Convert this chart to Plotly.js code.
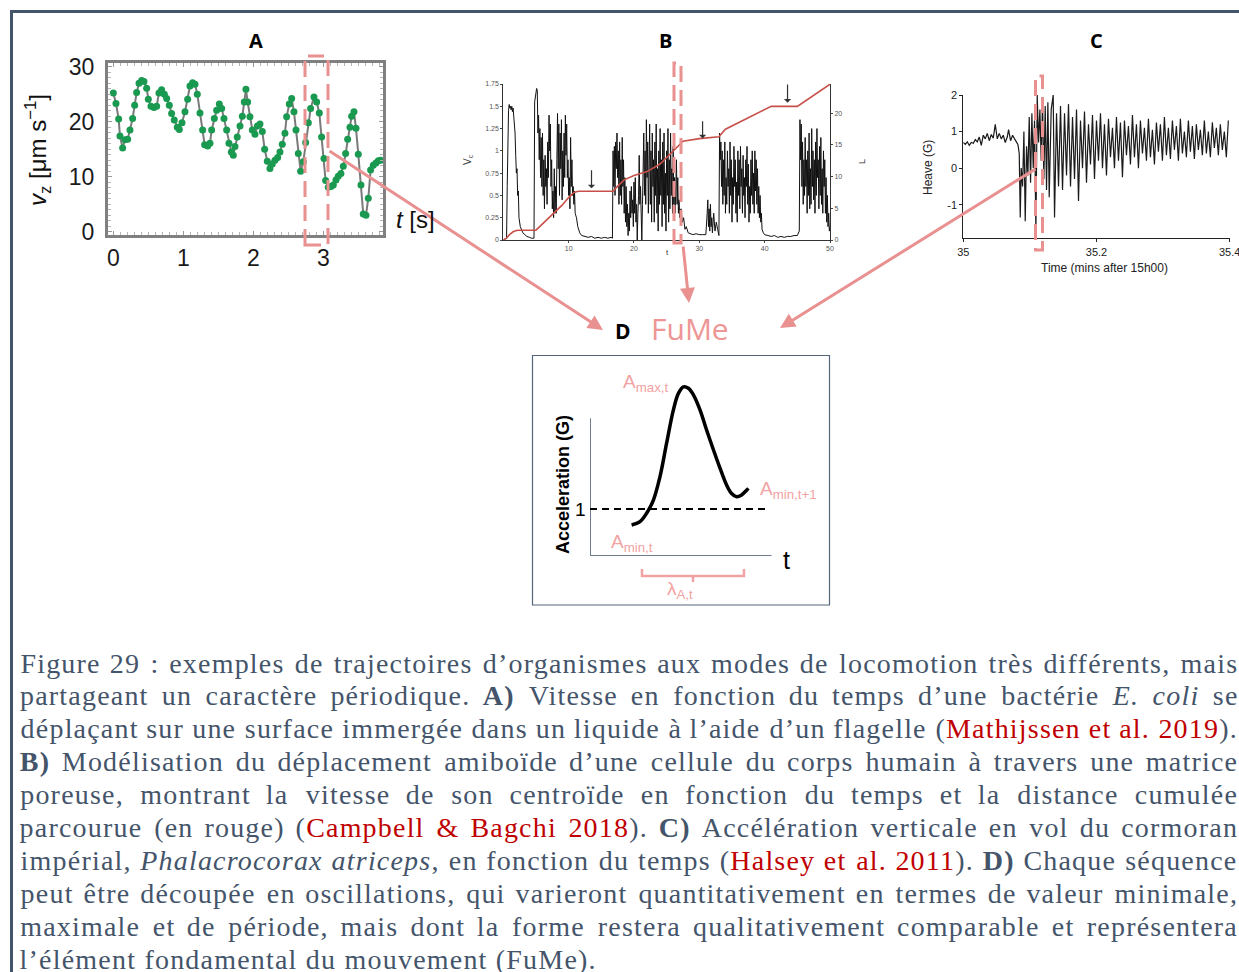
<!DOCTYPE html>
<html>
<head>
<meta charset="utf-8">
<script src="https://cdn.plot.ly/plotly-3.0.1.min.js"></script>
<style>
html, body { margin: 0; padding: 0; background: #ffffff; }
#fig { width: 1239px; height: 972px; }
</style>
</head>
<body>
<div id="fig"></div>
<script>
// ---------- Panel A: vertical swimming speed of E. coli ----------
const timeA = [0.000,0.038,0.076,0.095,0.133,0.167,0.205,0.238,0.276,0.305,0.333,0.367,0.405,0.438,0.476,0.500,0.538,0.581,0.619,0.652,
  0.690,0.729,0.762,0.800,0.833,0.871,0.914,0.943,0.981,1.024,1.062,1.095,1.133,1.167,1.200,1.238,1.276,1.305,1.348,1.381,
  1.405,1.443,1.476,1.514,1.548,1.581,1.619,1.652,1.686,1.714,1.738,1.771,1.810,1.843,1.871,1.895,1.919,1.952,1.986,2.024,
  2.057,2.095,2.129,2.162,2.200,2.238,2.271,2.310,2.348,2.381,2.414,2.452,2.476,2.514,2.548,2.581,2.610,2.643,2.676,2.714,
  2.748,2.786,2.819,2.867,2.905,2.943,2.976,3.010,3.033,3.071,3.110,3.143,3.181,3.214,3.252,3.286,3.319,3.348,3.381,3.405,
  3.438,3.467,3.500,3.538,3.571,3.610,3.643,3.676,3.714,3.752,3.786,3.819];
const speedA = [25.2,23.3,20.5,17.4,15.2,16.7,16.8,18.5,20.6,23.0,25.3,27.0,27.5,27.3,26.1,24.1,22.8,22.6,22.8,25.2,
  25.8,25.0,24.2,23.0,21.5,20.3,19.0,18.6,19.8,21.8,24.1,26.5,27.1,26.8,25.0,21.6,18.5,15.8,15.6,16.1,
  18.5,20.6,22.1,23.2,22.4,20.6,18.5,16.1,14.5,13.9,15.5,17.2,19.2,21.0,23.6,25.9,23.6,20.9,18.5,17.7,
  19.2,19.6,18.2,15.0,12.8,11.5,12.3,13.0,13.5,14.5,15.9,17.9,20.9,23.2,24.2,21.8,18.5,14.2,11.0,12.7,
  16.2,19.8,22.4,24.5,23.6,21.6,17.2,13.3,9.3,8.1,8.2,8.5,9.4,10.1,10.6,11.9,14.2,16.8,19.0,21.0,
  21.8,18.8,14.1,8.5,3.2,3.0,6.1,11.2,12.1,12.5,12.9,13.0];
const ticksAx = [0, 1, 2, 3];
const ticksAy = [0, 10, 20, 30];

// ---------- Panel B: centroid speed (black) and cumulative distance (red) ----------
const timeB = [
  0,0.5,0.6,0.7,0.8,0.9,1.0,1.1,1.2,1.3,1.4,1.5,1.6,1.7,1.8,1.9,2.0,2.1,2.2,2.3,2.4,2.6,2.8,3.0,3.3,3.6,4.0,4.3,4.6,
  4.7,4.8,4.9,5.0,5.1,5.2,5.3,5.4,5.5,5.6,5.7,5.8,5.9,6.0,6.1,6.2,6.3,6.4,6.5,6.6,6.7,6.8,6.9,7.0,7.1,7.2,7.3,7.4,7.5,7.6,7.7,
  7.8,7.9,8.0,8.1,8.2,8.3,8.4,8.5,8.6,8.7,8.8,8.9,9.0,9.1,9.2,9.3,9.4,9.5,9.6,9.7,9.8,9.9,10.0,10.1,10.2,10.3,10.4,10.5,10.6,10.7,
  10.8,10.9,11.0,
  11.2,11.4,11.7,12.0,12.5,13,13.5,14,14.5,15,15.5,16,16.5,16.7,
  16.8,16.9,17.0,17.1,17.2,17.3,17.4,17.5,17.6,17.7,17.8,17.9,18.0,18.1,18.2,18.3,18.4,18.5,18.6,18.7,
  18.8,18.9,19.0,19.1,19.2,19.3,19.4,19.5,19.6,19.7,19.8,19.9,20.0,20.1,20.2,20.3,20.4,20.5,20.6,20.7,
  20.8,20.9,21.0,21.1,21.2,21.3,21.4,21.5,21.6,21.7,21.8,21.9,22.0,22.1,22.2,22.3,22.4,22.5,22.6,22.7,
  22.8,22.9,23.0,23.1,23.2,23.3,23.4,23.5,23.6,23.7,23.8,23.9,24.0,24.1,24.2,24.3,24.4,24.5,24.6,24.7,
  24.8,24.9,25.0,25.1,25.2,25.3,25.4,25.5,25.6,25.7,25.8,25.9,26.0,26.1,26.2,26.3,26.4,26.5,26.6,26.7,
  26.8,26.9,27.0,
  27.2,27.4,27.6,27.8,28.0,28.3,28.6,29,29.5,30,30.5,31,31.2,31.3,31.4,31.5,31.6,31.7,31.8,31.9,32.0,32.2,32.4,32.6,32.8,33.0,
  33.1,33.2,33.3,33.4,33.5,33.6,33.7,33.8,33.9,34.0,34.1,34.2,34.3,34.4,34.5,34.6,34.7,34.8,34.9,35.0,
  35.1,35.2,35.3,35.4,35.5,35.6,35.7,35.8,35.9,36.0,36.1,36.2,36.3,36.4,36.5,36.6,36.7,36.8,36.9,37.0,
  37.1,37.2,37.3,37.4,37.5,37.6,37.7,37.8,37.9,38.0,38.1,38.2,38.3,38.4,38.5,38.6,38.7,38.8,38.9,39.0,
  39.1,39.2,39.3,39.4,39.5,39.6,39.8,
  40,40.5,41,41.5,42,42.5,43,43.5,44,44.5,45,45.3,
  45.4,45.5,45.6,45.7,45.8,45.9,46.0,46.1,46.2,46.3,46.4,46.5,46.6,46.7,46.8,46.9,47.0,47.1,47.2,47.3,
  47.4,47.5,47.6,47.7,47.8,47.9,48.0,48.1,48.2,48.3,48.4,48.5,48.6,48.7,48.8,48.9,49.0,49.1,49.2,49.3,
  49.4,49.5,49.6,49.7,49.8,49.9,50.0];
const speedB = [
  0,0.02,0.6,1.3,1.45,1.52,1.48,1.5,1.46,1.5,1.44,1.48,1.4,1.35,1.2,0.95,0.75,0.8,0.5,0.55,0.25,0.15,0.1,0.08,0.06,0.04,0.03,0.02,0.02,
  0.02,1.55,1.62,1.65,1.7,1.68,1.2,1.4,0.9,1.25,0.7,1.15,0.6,1.2,0.5,0.9,0.35,0.95,0.6,0.8,0.4,1.1,0.7,1.4,1.0,1.3,0.6,0.9,0.35,0.55,0.25,
  0.8,0.3,0.6,0.3,0.9,1.42,0.8,1.3,0.5,1.2,0.8,1.35,0.45,1.0,0.6,1.2,0.7,1.4,0.95,1.3,0.7,0.9,0.5,0.7,0.35,1.15,0.6,0.9,0.5,0.6,
  0.4,0.55,0.3,
  0.25,0.15,0.08,0.05,0.04,0.03,0.04,0.02,0.03,0.02,0.03,0.02,0.03,0.02,
  1.0,0.6,1.05,0.5,1.1,0.8,1.2,0.7,1.0,0.4,1.1,0.5,0.9,0.4,1.15,0.6,0.9,0.3,0.7,0.2,
  0.6,0.15,0.4,0.05,0.3,0.1,0.55,0.25,0.6,0.3,0.45,0.15,0.65,0.3,0.7,0.2,0.4,0.0,0.3,0.5,
  0.95,0.4,0.6,0.1,0.0,0.4,0.8,1.2,0.5,1.0,0.4,1.35,0.7,1.1,0.3,0.8,1.3,0.4,1.0,0.2,
  1.2,0.6,0.9,0.2,1.1,0.5,1.3,0.3,0.8,0.1,1.0,0.4,1.25,0.5,0.9,0.15,1.1,0.4,1.2,0.3,
  0.75,0.1,1.0,0.5,1.25,0.2,0.9,0.35,1.2,0.5,0.8,0.3,1.05,0.4,0.7,0.3,0.6,0.9,0.4,0.7,
  0.3,0.45,0.25,
  0.35,0.2,0.25,0.12,0.15,0.08,0.07,0.06,0.07,0.06,0.06,0.06,0.3,0.45,0.15,0.35,0.1,0.4,0.15,0.25,0.08,0.3,0.1,0.2,0.12,0.05,
  1.2,0.9,1.1,0.6,1.0,0.4,0.9,0.5,1.1,0.3,0.7,0.4,1.0,0.6,0.8,0.3,1.1,0.5,0.9,0.2,
  0.7,0.4,1.05,0.6,0.9,0.3,0.65,0.2,1.0,0.5,0.9,0.35,1.05,0.6,0.8,0.3,0.95,0.5,0.7,0.25,
  0.9,0.6,1.05,0.4,0.85,0.2,0.6,0.3,0.9,0.5,1.0,0.4,0.75,0.3,1.0,0.55,0.9,0.4,0.8,0.3,
  0.6,0.25,0.5,0.2,0.3,0.12,0.08,
  0.06,0.05,0.04,0.05,0.03,0.04,0.03,0.04,0.04,0.05,0.05,0.1,
  1.35,0.9,1.3,0.6,1.1,0.4,0.9,0.5,1.15,0.6,0.9,0.3,1.0,0.5,1.2,0.35,0.8,0.4,1.25,0.6,
  1.0,0.45,0.9,0.3,1.1,0.5,1.25,0.7,0.9,0.35,1.05,0.5,1.15,0.4,0.8,0.3,1.0,0.6,0.9,0.3,
  0.7,0.2,0.5,0.15,0.3,0.1,0.15];
const timeBL = [0,0.5,1,1.5,2,2.5,5,6,7,8,9,10,10.8,11.5,16.8,17.5,18.5,20,22,24,25.5,26.5,27.5,30,33,34,36,38,40,41,45,46,47,48,49,50];
const distB = [0,0.3,0.9,1.3,1.5,1.55,1.55,2.5,3.5,4.5,5.5,6.7,7.5,7.7,7.7,8.5,9.5,10.2,10.8,12.0,13.5,14.5,15.6,16.0,16.3,17.5,18.5,19.5,20.6,21.1,21.1,21.8,22.5,23.2,24.0,24.6];
const pauseT = [13.5, 30.5, 43.5];
const pauseTop = [0.8, 1.35, 1.76];
const pauseTip = [0.58, 1.14, 1.54];
const ticksBx = [10, 20, 30, 40, 50];
const ticksBy = [0, 0.25, 0.5, 0.75, 1, 1.25, 1.5, 1.75];
const ticksBL = [0, 5, 10, 15, 20];

// ---------- Panel C: heave acceleration of an imperial cormorant ----------
const timeC = [35.000,35.003,35.006,35.009,35.012,35.015,35.018,35.021,35.024,35.027,35.030,35.033,35.036,35.039,35.042,35.045,35.048,35.051,35.054,35.057,
  35.060,35.063,35.066,35.068,35.071,35.074,35.077,35.080,35.082,35.084,35.0855,35.087,35.089,35.091,35.093,35.095,35.097,35.099,35.101,35.103,
  35.105,35.107,35.109,35.111,35.113,35.115,35.117,35.119,35.121,35.123,35.125,35.127,35.129,35.132,35.135,35.137,35.140,35.143,35.146,35.149,
  35.152,35.155,35.158,35.161,35.164,35.167,35.170,35.173,35.176,35.179,35.182,35.185,35.188,35.191,35.194,35.197,35.200,35.203,35.206,35.209,
  35.212,35.215,35.218,35.221,35.224,35.227,35.230,35.233,35.236,35.239,35.242,35.245,35.248,35.251,35.254,35.257,35.260,35.263,35.266,35.269,
  35.272,35.275,35.278,35.281,35.284,35.287,35.290,35.293,35.296,35.299,35.302,35.305,35.308,35.311,35.314,35.317,35.320,35.323,35.326,35.329,
  35.332,35.335,35.338,35.341,35.344,35.347,35.350,35.353,35.356,35.359,35.362,35.365,35.368,35.371,35.374,35.377,35.380,35.383,35.386,35.389,
  35.392,35.395,35.398];
const heaveC = [0.70,0.65,0.72,0.62,0.70,0.68,0.78,0.72,0.85,0.62,0.90,0.80,0.95,0.75,0.92,0.82,1.20,0.80,0.95,0.80,
  0.90,0.70,0.85,1.05,0.75,0.90,0.80,0.70,0.65,0.40,-1.35,0.00,-0.50,1.00,-1.45,0.60,-0.20,1.40,-0.40,1.50,
  0.00,1.30,-1.75,2.00,0.70,1.60,0.20,1.85,-0.30,1.70,-0.60,1.80,-0.80,1.60,2.00,-1.35,1.50,-0.50,1.70,-0.60,
  1.50,-0.20,1.75,-0.50,1.40,-0.30,1.60,-0.90,1.30,0.00,1.55,-0.40,1.20,0.10,1.45,-0.30,1.30,0.20,1.50,0.00,
  1.20,-0.20,1.35,0.30,1.10,0.00,1.40,0.20,1.25,-0.25,1.30,0.35,1.15,0.10,1.45,0.30,1.20,0.00,1.30,0.40,
  1.10,0.20,1.35,0.30,1.05,0.10,1.25,0.45,1.20,0.20,1.40,0.35,1.10,0.25,1.30,0.50,1.15,0.20,1.35,0.40,
  1.00,0.30,1.30,0.45,1.15,0.25,1.20,0.50,1.05,0.35,1.30,0.40,1.00,0.30,1.25,0.55,1.10,0.35,1.20,0.50,
  1.00,0.30,1.30];
const ticksCx = [35, 35.2, 35.4];
const ticksCy = [-1, 0, 1, 2];

// ---------- Panel D: schematic of one fundamental movement element ----------
const timeD = [2.08,2.5,2.83,3.17,3.5,3.83,4.17,4.42,4.67,4.92,5.17,5.5,5.83,6.17,6.5,6.83,7.08,7.33,7.58,7.83,7.92];
const accD  = [0.66,0.73,0.91,1.19,1.69,2.40,3.11,3.46,3.60,3.57,3.43,3.11,2.68,2.26,1.87,1.51,1.33,1.26,1.30,1.40,1.44];
const gravityLevel = 1;

// ---------- Caption ----------
const captionLines = [
  [['n','Figure 29 : exemples de trajectoires d’organismes aux modes de locomotion très différents, mais']],
  [['n','partageant un caractère périodique. '],['b','A)'],['n',' Vitesse en fonction du temps d’une bactérie '],['i','E. coli'],['n',' se']],
  [['n','déplaçant sur une surface immergée dans un liquide à l’aide d’un flagelle ('],['r','Mathijssen et al. 2019'],['n',').']],
  [['b','B)'],['n',' Modélisation du déplacement amiboïde d’une cellule du corps humain à travers une matrice']],
  [['n','poreuse, montrant la vitesse de son centroïde en fonction du temps et la distance cumulée']],
  [['n','parcourue (en rouge) ('],['r','Campbell & Bagchi 2018'],['n','). '],['b','C)'],['n',' Accélération verticale en vol du cormoran']],
  [['n','impérial, '],['i','Phalacrocorax atriceps'],['n',', en fonction du temps ('],['r','Halsey et al. 2011'],['n','). '],['b','D)'],['n',' Chaque séquence']],
  [['n','peut être découpée en oscillations, qui varieront quantitativement en termes de valeur minimale,']],
  [['n','maximale et de période, mais dont la forme restera qualitativement comparable et représentera']],
  [['n','l’élément fondamental du mouvement (FuMe).']]
];

// ---------- layout helpers (page pixels -> paper fractions) ----------
const W = 1239, H = 972;
const px = x => x / W;
const py = y => 1 - y / H;

const PINK = '#e99090';
const LABEL_PINK = '#f2a2a2';
const SLATE = '#44546a';
const CITE = '#c00000';

const traces = [
  { x: timeA, y: speedA, xaxis: 'x', yaxis: 'y', type: 'scatter', mode: 'lines+markers',
    line: { color: '#7a7a7a', width: 2 }, marker: { color: '#1a9a50', size: 7 }, cliponaxis: false, hoverinfo: 'skip' },
  { x: timeBL, y: distB, xaxis: 'x2', yaxis: 'y3', type: 'scatter', mode: 'lines',
    line: { color: '#c8504a', width: 1.6 }, hoverinfo: 'skip' },
  { x: timeB, y: speedB, xaxis: 'x2', yaxis: 'y2', type: 'scatter', mode: 'lines',
    line: { color: '#111111', width: 1 }, hoverinfo: 'skip' },
  { x: timeC, y: heaveC, xaxis: 'x3', yaxis: 'y4', type: 'scatter', mode: 'lines',
    line: { color: '#1a1a1a', width: 1.2 }, hoverinfo: 'skip' },
  { x: timeD, y: accD, xaxis: 'x4', yaxis: 'y5', type: 'scatter', mode: 'lines',
    line: { color: '#000000', width: 3.5, shape: 'spline' }, cliponaxis: false, hoverinfo: 'skip' }
];

const tickFontA = { family: 'Liberation Sans, Arial, sans-serif', size: 23, color: '#1a1a1a' };
const tickFontB = { family: 'Liberation Sans, Arial, sans-serif', size: 7, color: '#555555' };
const tickFontC = { family: 'Liberation Sans, Arial, sans-serif', size: 11, color: '#222222' };

const layout = {
  width: W, height: H,
  margin: { l: 0, r: 0, t: 0, b: 0 },
  paper_bgcolor: '#ffffff', plot_bgcolor: 'rgba(0,0,0,0)',
  showlegend: false,
  xaxis: { domain: [px(108), px(383)], range: [-0.076, 3.853], anchor: 'y',
    tickvals: ticksAx, ticks: 'inside', ticklen: 4, tickcolor: '#999', tickfont: tickFontA,
    showline: true, mirror: 'allticks', linecolor: '#808080', linewidth: 3,
    minor: { dtick: 0.1, ticks: 'inside', ticklen: 3, tickcolor: '#b5b5b5' },
    showgrid: false, zeroline: false, ticklabelstandoff: 0, fixedrange: true },
  yaxis: { domain: [py(235), py(63)], range: [-0.6, 30.67], anchor: 'x',
    tickvals: ticksAy, ticks: 'inside', ticklen: 4, tickcolor: '#999', tickfont: tickFontA,
    showline: true, mirror: 'allticks', linecolor: '#808080', linewidth: 3,
    minor: { dtick: 1, ticks: 'inside', ticklen: 3, tickcolor: '#b5b5b5' },
    showgrid: false, zeroline: false, ticklabelstandoff: 6, fixedrange: true },

  xaxis2: { domain: [px(503.3), px(830)], range: [0, 50], anchor: 'y2',
    tickvals: ticksBx, ticks: 'outside', ticklen: 2, tickcolor: '#444', tickfont: tickFontB,
    showline: true, linecolor: '#333', linewidth: 1, showgrid: false, zeroline: false, fixedrange: true },
  yaxis2: { domain: [py(240), py(84)], range: [0, 1.75], anchor: 'x2',
    tickvals: ticksBy, ticks: 'outside', ticklen: 2, tickcolor: '#444', tickfont: tickFontB,
    showline: true, linecolor: '#333', linewidth: 1, showgrid: false, zeroline: false, fixedrange: true },
  yaxis3: { domain: [py(240), py(84)], range: [0, 24.63], anchor: 'x2', overlaying: 'y2', side: 'right',
    tickvals: ticksBL, ticks: 'outside', ticklen: 2, tickcolor: '#444', tickfont: tickFontB,
    showline: true, linecolor: '#333', linewidth: 1, showgrid: false, zeroline: false, fixedrange: true },

  xaxis3: { domain: [px(963.3), px(1230)], range: [35, 35.4005], anchor: 'y4',
    tickvals: ticksCx, ticktext: ticksCx.map(String), ticks: 'outside', ticklen: 3, tickcolor: '#222', tickfont: tickFontC,
    ticklabeloverflow: 'allow',
    showline: true, linecolor: '#222', linewidth: 1, showgrid: false, zeroline: false, fixedrange: true },
  yaxis4: { domain: [py(238.3), py(95)], range: [-1.92, 2.0], anchor: 'x3',
    tickvals: ticksCy, ticktext: ticksCy.map(String), ticks: 'outside', ticklen: 3, tickcolor: '#222', tickfont: tickFontC,
    showline: true, linecolor: '#222', linewidth: 1, showgrid: false, zeroline: false, fixedrange: true },

  xaxis4: { domain: [px(590), px(780)], range: [0, 9.5], anchor: 'y5', visible: false, fixedrange: true },
  yaxis5: { domain: [py(556), py(380)], range: [0, 3.745], anchor: 'x4', visible: false, fixedrange: true },

  shapes: [],
  annotations: []
};

const shapes = layout.shapes;
const ann = layout.annotations;

// outer frame (top and left rules)
shapes.push({ type: 'line', xref: 'paper', yref: 'paper', x0: px(10), x1: px(1239), y0: py(11.5), y1: py(11.5),
  line: { color: SLATE, width: 3 } });
shapes.push({ type: 'line', xref: 'paper', yref: 'paper', x0: px(11.5), x1: px(11.5), y0: py(10), y1: py(972),
  line: { color: SLATE, width: 3 } });

// dashed selection windows
const dashed = { color: PINK, width: 3, dash: '16px,8px' };
shapes.push({ type: 'rect', xref: 'paper', yref: 'paper', x0: px(305), x1: px(328), y0: py(245), y1: py(56), line: dashed });
shapes.push({ type: 'rect', xref: 'paper', yref: 'paper', x0: px(674), x1: px(681), y0: py(243), y1: py(63), line: dashed });
shapes.push({ type: 'rect', xref: 'paper', yref: 'paper', x0: px(1035.5), x1: px(1042.5), y0: py(250), y1: py(76), line: dashed });

// panel D frame, axes, reference level, period bracket
shapes.push({ type: 'rect', xref: 'paper', yref: 'paper', x0: px(532.5), x1: px(829.5), y0: py(605), y1: py(355.5),
  line: { color: '#55657a', width: 1.2 } });
shapes.push({ type: 'line', xref: 'x4', yref: 'y5', x0: 0, x1: 0, y0: 0, y1: 2.93, line: { color: '#6e7d90', width: 2 } });
shapes.push({ type: 'line', xref: 'x4', yref: 'y5', x0: 0, x1: 9.08, y0: 0, y1: 0, line: { color: '#6e7d90', width: 2 } });
shapes.push({ type: 'line', xref: 'x4', yref: 'y5', x0: 0, x1: 8.9, y0: gravityLevel, y1: gravityLevel,
  line: { color: '#000', width: 2, dash: '7px,5px' } });
shapes.push({ type: 'path', xref: 'paper', yref: 'paper',
  path: `M ${px(642)} ${py(569)} L ${px(642)} ${py(576)} L ${px(744)} ${py(576)} L ${px(744)} ${py(569)} M ${px(693)} ${py(576)} L ${px(693)} ${py(582)}`,
  line: { color: LABEL_PINK, width: 2.5 } });

// arrows to the FuMe schematic
function arrow(tipX, tipY, tailX, tailY) {
  ann.push({ xref: 'paper', yref: 'paper', x: px(tipX), y: py(tipY), ax: tailX - tipX, ay: tailY - tipY,
    text: '', showarrow: true, arrowhead: 2, arrowsize: 1, arrowwidth: 3, arrowcolor: PINK });
}
arrow(603, 330, 328, 150);
arrow(689, 303, 683, 245);
arrow(780, 328, 1037, 168);

// pause markers in panel B
pauseT.forEach((t, i) => {
  ann.push({ xref: 'x2', yref: 'y2', axref: 'x2', ayref: 'y2', x: t, y: pauseTip[i], ax: t, ay: pauseTop[i],
    text: '', showarrow: true, arrowhead: 1, arrowsize: 1, arrowwidth: 1.2, arrowcolor: '#333' });
});

// text helper
function label(x, y, text, opts) {
  ann.push(Object.assign({ xref: 'paper', yref: 'paper', x: px(x), y: py(y), text: text, showarrow: false,
    xanchor: 'center', yanchor: 'middle', borderpad: 0, borderwidth: 0 }, opts));
}
const sans = 'Liberation Sans, Arial, sans-serif';
const heading = 'Open Sans, Noto Sans, sans-serif';

// panel letters
label(256, 40, '<b>A</b>', { font: { family: heading, size: 20, color: '#000' } });
label(666, 40, '<b>B</b>', { font: { family: heading, size: 20, color: '#000' } });
label(1096, 40, '<b>C</b>', { font: { family: heading, size: 20, color: '#000' } });
label(623, 331, '<b>D</b>', { font: { family: heading, size: 21, color: '#000' } });
label(690, 328, 'FuMe', { font: { family: heading, size: 30, color: '#ee9595' } });

// panel A titles
label(38, 150, '<i>v</i><sub>z</sub> [μm s<sup>−1</sup>]', { textangle: -90, font: { family: sans, size: 24, color: '#111' } });
label(415, 220, '<i>t</i> [s]', { font: { family: sans, size: 24, color: '#111' } });

// panel B titles
label(468, 160, 'V<sub>c</sub>', { textangle: -90, font: { family: sans, size: 10, color: '#333' } });
label(667, 252, 't', { font: { family: sans, size: 8, color: '#333' } });
label(862, 162, 'L', { textangle: -90, font: { family: sans, size: 9, color: '#333' } });

// panel C titles
label(928, 168, 'Heave (G)', { textangle: -90, font: { family: sans, size: 12, color: '#222' } });
label(1104, 268, 'Time (mins after 15h00)', { font: { family: sans, size: 12, color: '#222' } });

// panel D labels
label(563, 485, '<b>Acceleration (G)</b>', { textangle: -90, font: { family: sans, size: 18, color: '#000' } });
label(580, 509, '1', { font: { family: sans, size: 19, color: '#000' } });
label(786, 560, 't', { font: { family: sans, size: 25, color: '#000' } });
label(646, 383, 'A<sub>max,t</sub>', { font: { family: sans, size: 19, color: LABEL_PINK } });
label(788, 490, 'A<sub>min,t+1</sub>', { font: { family: sans, size: 19, color: LABEL_PINK } });
label(632, 543, 'A<sub>min,t</sub>', { font: { family: sans, size: 19, color: LABEL_PINK } });
label(680, 590, 'λ<sub>A,t</sub>', { font: { family: sans, size: 19, color: LABEL_PINK } });

// ---------- justified caption ----------
const capFamily = 'Liberation Serif';
const capSize = 28;
const capTrack = 1.2;          // letter spacing, px
const capLeft = 20, capRight = 1238, capTop = 663, capStep = 32.9;
const ctx = document.createElement('canvas').getContext('2d');
function measure(style, txt) {
  ctx.font = (style === 'i' ? 'italic ' : '') + (style === 'b' ? 'bold ' : '') + capSize + 'px "' + capFamily + '"';
  return ctx.measureText(txt).width + capTrack * [...txt].length;
}
function esc(s) { return s.replace(/&/g, '&amp;'); }
function wrap(style, txt) {
  if (style === 'b') return '<b>' + esc(txt) + '</b>';
  if (style === 'i') return '<i>' + esc(txt) + '</i>';
  if (style === 'r') return '<span style="color:' + CITE + '">' + esc(txt) + '</span>';
  return esc(txt);
}
const captionStart = ann.length;
captionLines.forEach((runs, li) => {
  const words = [];
  let cur = [];
  runs.forEach(([style, txt]) => {
    let buf = '';
    for (const ch of txt) {
      if (ch === ' ') {
        if (buf) cur.push([style, buf]);
        buf = '';
        if (cur.length) { words.push(cur); cur = []; }
      } else buf += ch;
    }
    if (buf) cur.push([style, buf]);
  });
  if (cur.length) words.push(cur);
  const widths = words.map(w => w.reduce((s, [st, t]) => s + measure(st, t), 0));
  const total = widths.reduce((a, b) => a + b, 0);
  const last = li === captionLines.length - 1;
  const gap = last ? measure('n', ' ') : (capRight - capLeft - total) / (words.length - 1);
  let x = capLeft;
  const y = capTop + li * capStep;
  words.forEach((w, wi) => {
    // words are centred on their tracked width, since the text is anchored at its middle
    ann.push({ xref: 'paper', yref: 'paper', x: px(x + widths[wi] / 2), y: py(y), xanchor: 'center', yanchor: 'middle',
      showarrow: false, borderpad: 0, borderwidth: 0,
      text: w.map(([st, t]) => wrap(st, t)).join(''),
      font: { family: capFamily, size: capSize, color: SLATE } });
    x += widths[wi] + gap;
  });
});

Plotly.newPlot('fig', traces, layout, { staticPlot: true, displayModeBar: false }).then(gd => {
  // widen the caption's letter spacing to match the measured word widths
  gd.querySelectorAll('g.annotation').forEach(g => {
    const idx = +g.getAttribute('data-index');
    if (idx >= captionStart) {
      g.querySelectorAll('text').forEach(t => { t.style.letterSpacing = capTrack + 'px'; });
    }
  });
});
</script>
</body>
</html>
